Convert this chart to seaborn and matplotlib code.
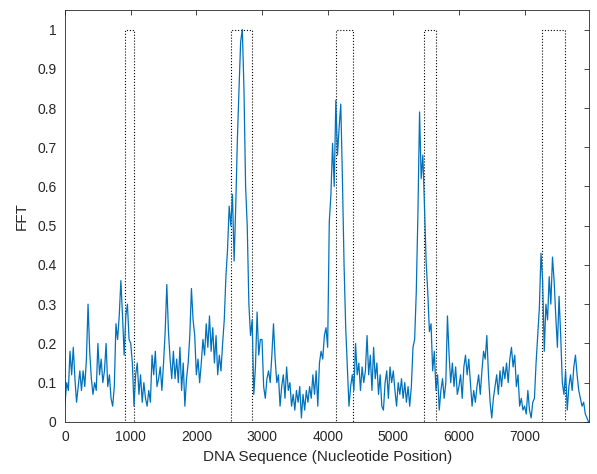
import numpy as np
import pandas as pd
import matplotlib
matplotlib.use("Agg")
import matplotlib.pyplot as plt
import seaborn as sns

# FFT magnitude, one value every 25 nucleotides
step = 25
fft_values = [
    # 0 - 1000
    0.05, 0.10, 0.08, 0.18, 0.12, 0.19, 0.11, 0.05, 0.09, 0.13,
    0.08, 0.13, 0.09, 0.16, 0.30, 0.18, 0.11, 0.07, 0.10, 0.08,
    0.20, 0.12, 0.16, 0.10, 0.13, 0.20, 0.09, 0.12, 0.06, 0.04,
    0.09, 0.25, 0.21, 0.27, 0.36, 0.27, 0.17, 0.27, 0.30, 0.21,
    # 1000 - 2000
    0.20, 0.15, 0.04, 0.12, 0.15, 0.07, 0.12, 0.05, 0.10, 0.06,
    0.04, 0.08, 0.05, 0.17, 0.12, 0.18, 0.09, 0.11, 0.14, 0.08,
    0.15, 0.23, 0.35, 0.23, 0.16, 0.11, 0.18, 0.11, 0.16, 0.10,
    0.19, 0.08, 0.15, 0.04, 0.11, 0.15, 0.22, 0.34, 0.26, 0.22,
    # 2000 - 3000
    0.12, 0.16, 0.10, 0.15, 0.21, 0.17, 0.25, 0.19, 0.27, 0.18,
    0.24, 0.15, 0.22, 0.12, 0.17, 0.13, 0.20, 0.26, 0.37, 0.44,
    0.55, 0.50, 0.58, 0.41, 0.55, 0.72, 0.85, 0.97, 1.00, 0.85,
    0.60, 0.50, 0.30, 0.22, 0.26, 0.07, 0.14, 0.28, 0.17, 0.21,
    # 3000 - 4000
    0.21, 0.09, 0.06, 0.11, 0.13, 0.10, 0.17, 0.25, 0.16, 0.10,
    0.12, 0.04, 0.09, 0.12, 0.06, 0.14, 0.08, 0.10, 0.04, 0.07,
    0.03, 0.08, 0.05, 0.09, 0.01, 0.07, 0.03, 0.08, 0.05, 0.09,
    0.06, 0.12, 0.07, 0.13, 0.04, 0.15, 0.18, 0.16, 0.22, 0.24,
    # 4000 - 5000
    0.19, 0.51, 0.58, 0.71, 0.60, 0.82, 0.68, 0.75, 0.81, 0.62,
    0.40, 0.24, 0.14, 0.04, 0.09, 0.12, 0.08, 0.20, 0.12, 0.15,
    0.08, 0.14, 0.10, 0.13, 0.22, 0.12, 0.17, 0.08, 0.19, 0.11,
    0.15, 0.07, 0.12, 0.04, 0.03, 0.10, 0.13, 0.06, 0.14, 0.10,
    # 5000 - 6000
    0.13, 0.08, 0.04, 0.10, 0.07, 0.11, 0.06, 0.10, 0.05, 0.09,
    0.04, 0.09, 0.19, 0.21, 0.33, 0.53, 0.79, 0.62, 0.68, 0.55,
    0.41, 0.33, 0.23, 0.25, 0.13, 0.18, 0.08, 0.12, 0.03, 0.08,
    0.11, 0.06, 0.10, 0.27, 0.17, 0.10, 0.15, 0.09, 0.14, 0.07,
    # 6000 - 7000
    0.09, 0.12, 0.06, 0.14, 0.17, 0.12, 0.16, 0.10, 0.04, 0.08,
    0.05, 0.09, 0.12, 0.07, 0.13, 0.18, 0.16, 0.22, 0.12, 0.05,
    0.01, 0.06, 0.09, 0.12, 0.07, 0.13, 0.09, 0.14, 0.11, 0.15,
    0.10, 0.16, 0.19, 0.14, 0.17, 0.09, 0.12, 0.04, 0.06, 0.03,
    # 7000 - 8000
    0.04, 0.02, 0.08, 0.03, 0.01, 0.05, 0.06, 0.15, 0.22, 0.29,
    0.43, 0.36, 0.18, 0.30, 0.26, 0.37, 0.30, 0.42, 0.36, 0.27,
    0.19, 0.32, 0.22, 0.10, 0.07, 0.13, 0.03, 0.09, 0.12, 0.08,
    0.14, 0.17, 0.12, 0.08, 0.06, 0.04, 0.05, 0.02, 0.01, 0.00,
]

# known coding regions (dotted boxes)
gene_starts = [920, 2535, 4130, 5475, 7260]
gene_ends = [1045, 2855, 4390, 5650, 7610]
seq_end = 7985

positions = np.arange(len(fft_values)) * step
df = pd.DataFrame({"pos": positions, "fft": fft_values})

# step function: 0 outside genes, 1 inside
gx, gy = [0], [0]
for s, e in zip(gene_starts, gene_ends):
    gx += [s, s, e, e]
    gy += [0, 1, 1, 0]
gx.append(seq_end)
gy.append(0)
genes = pd.DataFrame({"pos": gx, "ind": gy})

sns.set_style("white")
plt.rcParams["font.family"] = ["Liberation Sans", "DejaVu Sans"]
axcol = "#262626"

fig = plt.figure(figsize=(5.97, 4.74), dpi=100)
ax = fig.add_axes([0.109, 0.110, 0.878, 0.869])

sns.lineplot(data=genes, x="pos", y="ind", estimator=None, sort=False,
             color="black", linestyle=":", linewidth=0.8, ax=ax)
sns.lineplot(data=df, x="pos", y="fft", estimator=None, sort=False,
             color="#0072BD", linewidth=0.9, ax=ax)

ax.set_xlim(0, seq_end)
ax.set_ylim(0, 1.05)
ax.set_xticks(np.arange(0, 8000, 1000))
ax.set_yticks(np.arange(0, 1.01, 0.1))
ax.set_yticklabels(["0"] + [f"{v:.1f}" for v in np.arange(0.1, 0.95, 0.1)] + ["1"])
ax.tick_params(direction="in", length=3.6, width=0.6, colors=axcol,
               labelsize=10, top=True, right=True, pad=6)
for sp in ax.spines.values():
    sp.set_color(axcol)
    sp.set_linewidth(0.6)

ax.set_xlabel("DNA Sequence (Nucleotide Position)", fontsize=11, color=axcol, labelpad=4)
ax.set_ylabel("FFT", fontsize=11, color=axcol, labelpad=6)

fig.savefig("out.png", dpi=100)
